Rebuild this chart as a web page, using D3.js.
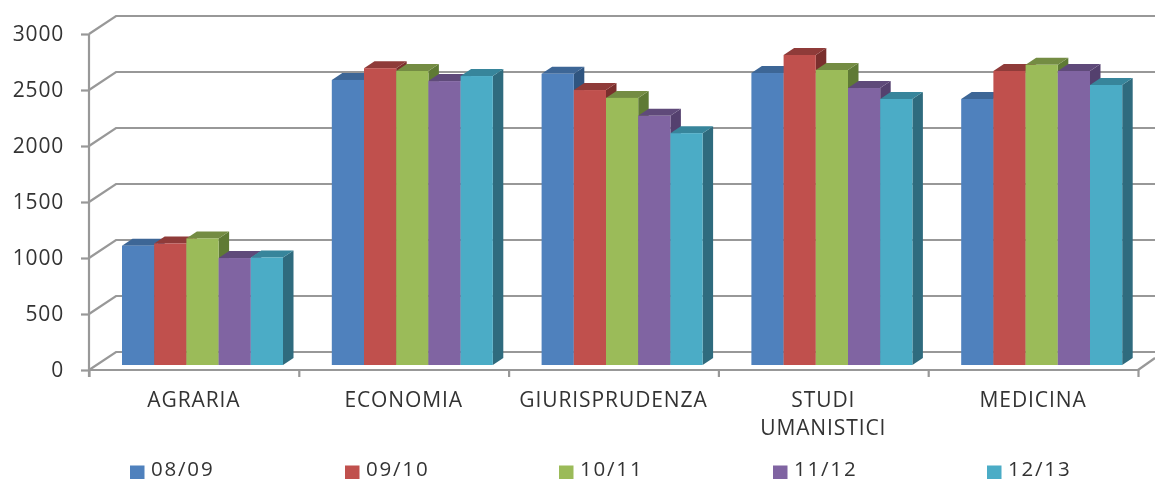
<!DOCTYPE html>
<html><head><meta charset="utf-8">
<script src="https://cdn.jsdelivr.net/npm/d3@7"></script>
<style>html,body{margin:0;padding:0;background:#fff}svg{display:block}</style>
</head><body><div id="c"></div>
<script>
const categories = ["AGRARIA","ECONOMIA","GIURISPRUDENZA","STUDI UMANISTICI","MEDICINA"];
const seriesNames = ["08/09","09/10","10/11","11/12","12/13"];
const v0809 = [1065,2545,2600,2607,2375];
const v0910 = [1085,2650,2455,2768,2625];
const v1011 = [1130,2625,2385,2634,2680];
const v1112 = [955,2535,2225,2473,2625];
const v1213 = [960,2580,2070,2375,2500];
const seriesValues = [v0809,v0910,v1011,v1112,v1213];
const yTicks = [0,500,1000,1500,2000,2500,3000];
const frontColors = ["#4f81bd","#c0504d","#9bbb59","#8064a2","#4bacc6"];
const topColors = ["#3d6696","#8f3b39","#748c43","#5f4a7a","#37859b"];
const sideColors = ["#2f5580","#7a2f2d","#5f7a35","#54406e","#2f6b7e"];
const legendX = [130,345,559,773,987];

const W=1155,H=482, grid="#989898", txt="#333", font="Open Sans";
const svg=d3.select("#c").append("svg").attr("width",W).attr("height",H);
const root=svg.append("g").style("filter","blur(0.5px)");
const x=d3.scaleBand().domain(categories).range([89,1138]);
const inner=d3.scaleBand().domain(seriesNames).range([33,194]);
const y=d3.scaleLinear().domain([0,3000]).range([370,34]);
const wall={dx:27,dy:-18}, barLift=5, depth={dx:10.5,dy:-7};

const g=root.append("g").attr("fill","none").attr("stroke",grid).attr("stroke-width",2.2);
g.selectAll(".w").data(yTicks).join("path")
 .attr("d",d=>`M${x.range()[0]},${y(d)}L${x.range()[0]+wall.dx},${y(d)+wall.dy}L${W},${y(d)+wall.dy}`);
g.append("path").attr("d",`M${x.range()[1]},${y(0)}L${W},${y(0)-12}`);

const yAxis=d3.axisLeft(y).tickValues(yTicks).tickSize(8).tickPadding(17).tickFormat(d3.format("d"));
const ya=root.append("g").attr("transform","translate(89,0)").call(yAxis);
const bounds=d3.scaleLinear().domain([0,5]).range(x.range());
const xb=root.append("g").attr("transform",`translate(0,${y(0)})`).call(d3.axisBottom(bounds).ticks(5).tickSize(7).tickFormat(""));
[ya,xb].forEach(a=>{a.selectAll("path,line").attr("stroke",grid).attr("stroke-width",2.2);});
ya.select(".domain").attr("d",`M0,${y(3000)}V${y(0)+7}`);
xb.select(".domain").attr("d",`M${x.range()[0]},0H${x.range()[1]}`);
ya.selectAll("text").attr("font-family",font).attr("font-size",21).attr("letter-spacing",0.8).attr("fill",txt);

const base=y(0)-barLift;
categories.forEach((c,ci)=>{
 seriesNames.forEach((s,si)=>{
  const v=seriesValues[si][ci];
  const x0=x(c)+inner(s), x1=x0+inner.bandwidth(), t=y(v)-barLift;
  const b=root.append("g");
  b.append("path").attr("fill",sideColors[si]).attr("d",`M${x1},${t}L${x1+depth.dx},${t+depth.dy}L${x1+depth.dx},${base+depth.dy}L${x1},${base}Z`);
  b.append("path").attr("fill",topColors[si]).attr("d",`M${x0},${t}L${x0+depth.dx},${t+depth.dy}L${x1+depth.dx},${t+depth.dy}L${x1},${t}Z`);
  b.append("rect").attr("fill",frontColors[si]).attr("x",x0).attr("y",t).attr("width",inner.bandwidth()).attr("height",base-t);
 });
});

const lab=root.append("g").attr("font-family",font).attr("font-size",21).attr("letter-spacing",0.9).attr("fill",txt).attr("text-anchor","middle");
categories.forEach(c=>{
 const parts=c==="STUDI UMANISTICI"?c.split(" "):[c];
 parts.forEach((p,i)=>lab.append("text").attr("x",x(c)+x.bandwidth()/2).attr("y",407+i*28).text(p));
});

const leg=root.append("g");
seriesNames.forEach((s,i)=>{
 leg.append("rect").attr("x",legendX[i]).attr("y",465.5).attr("width",14.5).attr("height",13.5).attr("fill",frontColors[i]);
 leg.append("text").attr("x",legendX[i]+21).attr("y",476).attr("font-family",font).attr("font-size",20.5).attr("letter-spacing",1.8).attr("fill",txt).text(s);
});
</script></body></html>
